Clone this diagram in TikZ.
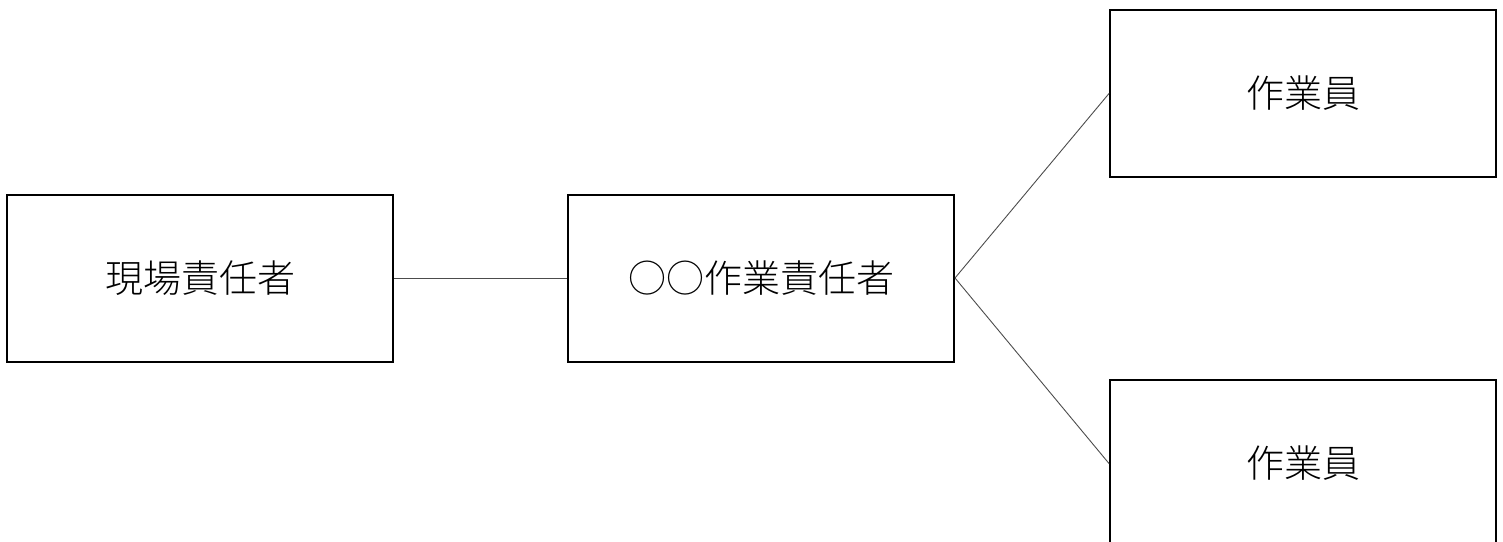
\documentclass[tikz,border=0pt]{standalone}
\usepackage{fontspec}
\newfontfamily\jp{Noto Sans CJK JP Light}
\begin{document}
\begin{tikzpicture}[x=1pt,y=-1pt,
  box/.style={draw=black,line width=2pt,fill=white,minimum width=386pt,minimum height=167pt,inner sep=0pt,font=\jp\fontsize{38}{40}\selectfont},
  link/.style={draw=black!70,line width=0.9pt}]
\useasboundingbox (0,0) rectangle (1503,541);
\node[box] (genba) at (200,278) {現場責任者};
\node[box] (sagyo) at (761,278) {○○作業責任者};
\node[box] (w1) at (1303,93.5) {作業員};
\node[box] (w2) at (1303,463.5) {作業員};
\draw[link] (genba.east) -- (sagyo.west);
\draw[link] (sagyo.east) -- (w1.west);
\draw[link] (sagyo.east) -- (w2.west);
\end{tikzpicture}
\end{document}
